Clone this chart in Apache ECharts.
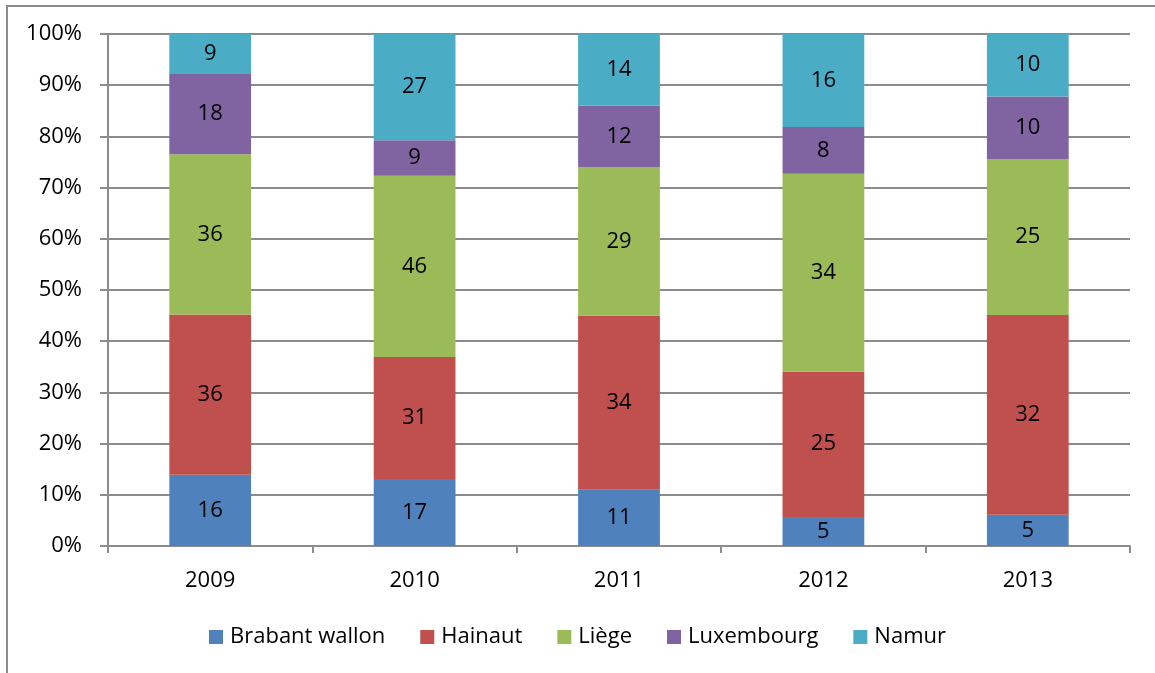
<!DOCTYPE html>
<html>
<head>
<meta charset="utf-8">
<script src="https://cdn.jsdelivr.net/npm/echarts@6/dist/echarts.min.js"></script>
<style>
  html, body { margin: 0; padding: 0; background: #fff; }
  #chart { width: 1155px; height: 673px; }
</style>
</head>
<body>
<div id="chart"></div>
<script>
const years = ['2009', '2010', '2011', '2012', '2013']
const brabantWallon = [16, 17, 11, 5, 5]
const hainaut = [36, 31, 34, 25, 32]
const liege = [36, 46, 29, 34, 25]
const luxembourg = [18, 9, 12, 8, 10]
const namur = [9, 27, 14, 16, 10]

const seriesDefs = [
  { name: 'Brabant wallon', data: brabantWallon, color: '#4F81BD' },
  { name: 'Hainaut', data: hainaut, color: '#C0504D' },
  { name: 'Liège', data: liege, color: '#9BBB59' },
  { name: 'Luxembourg', data: luxembourg, color: '#8064A2' },
  { name: 'Namur', data: namur, color: '#4BACC6' },
]

// totals per year, used to turn counts into shares of 100%
const totals = years.map((_, i) => seriesDefs.reduce((s, d) => s + d.data[i], 0))

const FONT = 'Open Sans'
const FS = 22

const chart = echarts.init(document.getElementById('chart'))
chart.setOption({
  animation: false,
  textStyle: { fontFamily: FONT },
  graphic: [
    {
      type: 'rect',
      shape: { x: 7, y: 6, width: 1200, height: 700 },
      style: { fill: 'none', stroke: '#8c8c8c', lineWidth: 2 },
      silent: true,
    },
  ],
  grid: { left: 108, right: 25, top: 34, bottom: 127 },
  legend: {
    bottom: 20,
    left: 'center',
    itemWidth: 14,
    itemHeight: 14,
    itemGap: 35,
    icon: 'rect',
    textStyle: { fontSize: FS, color: '#000', fontFamily: FONT, padding: [0, 0, 0, 2] },
    data: seriesDefs.map((d) => d.name),
  },
  xAxis: {
    type: 'category',
    data: years,
    axisLine: { lineStyle: { color: '#8c8c8c', width: 2 } },
    axisTick: { show: true, length: 7, lineStyle: { color: '#8c8c8c', width: 2 } },
    axisLabel: { color: '#000', fontSize: FS, margin: 24 },
  },
  yAxis: {
    type: 'value',
    min: 0,
    max: 100,
    interval: 10,
    axisLine: { show: true, lineStyle: { color: '#8c8c8c', width: 2 } },
    axisTick: { show: true, length: 8, inside: false, lineStyle: { color: '#8c8c8c', width: 2 } },
    axisLabel: { color: '#000', fontSize: FS, margin: 26, formatter: '{value}%' },
    splitLine: { lineStyle: { color: '#8c8c8c', width: 2 } },
  },
  series: seriesDefs.map((d) => ({
    name: d.name,
    type: 'bar',
    stack: 'total',
    barWidth: '40%',
    itemStyle: { color: d.color },
    label: {
      show: true,
      position: 'inside',
      color: '#000',
      fontSize: FS,
      fontFamily: FONT,
      formatter: (p) => d.data[p.dataIndex],
    },
    data: d.data.map((v, i) => (v / totals[i]) * 100),
  })),
})
</script>
</body>
</html>
